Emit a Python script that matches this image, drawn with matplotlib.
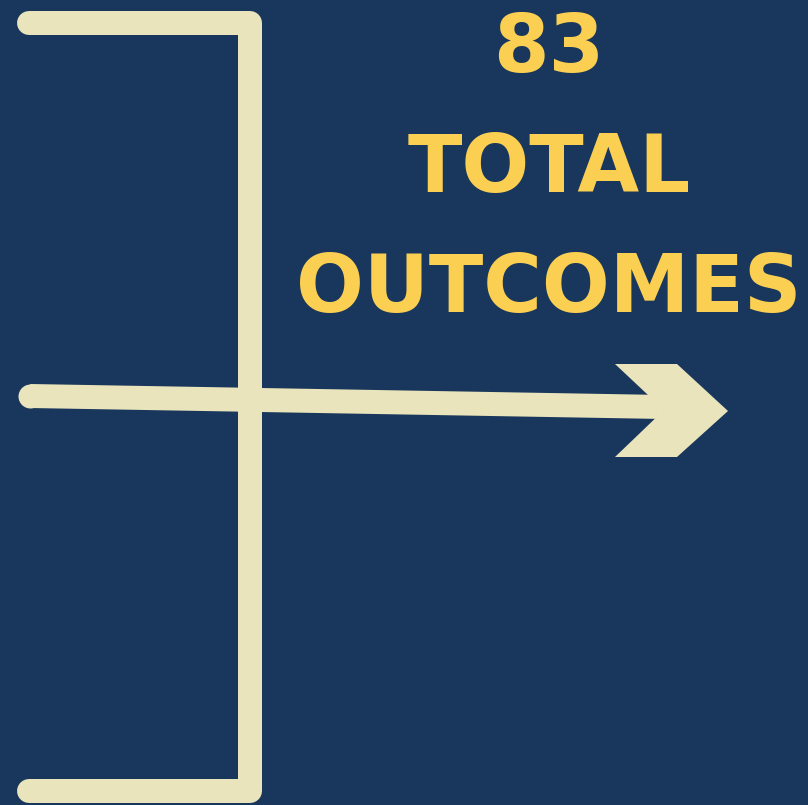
import matplotlib
matplotlib.use("Agg")
import matplotlib.pyplot as plt
from matplotlib.patches import Polygon

# values shown in the graphic
total_outcomes = 83
label_lines = ["TOTAL", "OUTCOMES"]

BG = "#19375c"
CREAM = "#e9e4bb"
YELLOW = "#fbcf52"

W, H = 808, 805
fig = plt.figure(figsize=(W / 100, H / 100), dpi=100)
fig.patch.set_facecolor(BG)
ax = fig.add_axes([0, 0, 1, 1])
ax.set_xlim(0, W)
ax.set_ylim(H, 0)
ax.set_facecolor(BG)
ax.axis("off")

lw = 24 * 72 / 100  # 24 px stroke

# bracket
ax.plot([29, 250, 250, 29], [23, 23, 791, 791], color=CREAM, lw=lw,
        solid_capstyle="round", solid_joinstyle="round")

# arrow shaft
ax.plot([30, 664], [396, 407], color=CREAM, lw=lw, solid_capstyle="butt")
ax.plot([30], [396], marker="o", ms=24 * 72 / 100, color=CREAM, mew=0)

# arrow head (chevron)
head = [(615, 364), (677, 364), (728, 411), (677, 457), (615, 457), (664, 410)]
ax.add_patch(Polygon(head, closed=True, facecolor=CREAM, edgecolor="none"))

# text block
txt_kw = dict(color=YELLOW, fontweight="bold", family="DejaVu Sans",
              ha="center", va="baseline", fontsize=57.5)
ax.text(549, 72, str(total_outcomes), **txt_kw)
ax.text(549, 192, label_lines[0], **txt_kw)
ax.text(549, 312, label_lines[1], **txt_kw)

fig.savefig("out.png", dpi=100, facecolor=BG)
